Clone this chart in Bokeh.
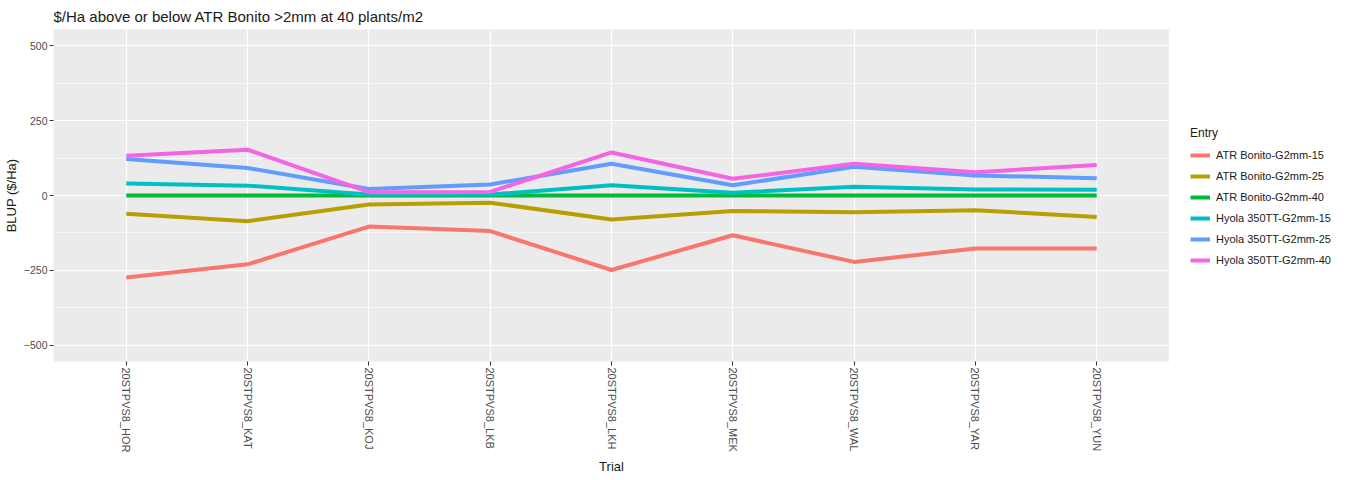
import math
from bokeh.plotting import figure
from bokeh.layouts import row
from bokeh.models import FactorRange, Range1d, FixedTicker, Legend, LegendItem
from bokeh.embed import file_html
from bokeh.resources import INLINE

trials = ["20STPVS8_HOR", "20STPVS8_KAT", "20STPVS8_KOJ", "20STPVS8_LKB", "20STPVS8_LKH",
          "20STPVS8_MEK", "20STPVS8_WAL", "20STPVS8_YAR", "20STPVS8_YUN"]

entries = ["ATR Bonito-G2mm-15", "ATR Bonito-G2mm-25", "ATR Bonito-G2mm-40",
           "Hyola 350TT-G2mm-15", "Hyola 350TT-G2mm-25", "Hyola 350TT-G2mm-40"]
colors = ["#F8766D", "#B79F00", "#00BA38", "#00BFC4", "#619CFF", "#F564E3"]

atr_15 = [-274, -230, -104, -119, -249, -133, -222, -177, -177]
atr_25 = [-61, -86, -30, -24, -80, -52, -56, -49, -72]
atr_40 = [0, 0, 0, 0, 0, 0, 0, 0, 0]
hyola_15 = [40, 33, 3, 3, 34, 9, 29, 20, 19]
hyola_25 = [122, 92, 22, 37, 106, 34, 96, 67, 58]
hyola_40 = [133, 153, 11, 12, 144, 56, 106, 78, 102]
series = [atr_15, atr_25, atr_40, hyola_15, hyola_25, hyola_40]

y_ticks = [-500, -250, 0, 250, 500]
y_minor = [-375, -125, 125, 375]

FONT = "Liberation Sans"

p = figure(x_range=FactorRange(factors=trials, range_padding=0.1, range_padding_units="absolute"),
           y_range=Range1d(-555, 555),
           frame_width=1116, frame_height=332,
           min_border_left=44, min_border_right=0, min_border_top=23, min_border_bottom=100,
           output_backend="svg", toolbar_location=None,
           title="$/Ha above or below ATR Bonito >2mm at 40 plants/m2")

p.background_fill_color = "#EBEBEB"
p.border_fill_color = "white"
p.outline_line_color = None

p.title.text_font = FONT
p.title.text_font_size = "15px"
p.title.text_font_style = "normal"
p.title.text_color = "#1A1A1A"
p.title.align = "left"

p.xgrid.grid_line_color = "white"
p.xgrid.grid_line_width = 1.2
p.ygrid.grid_line_color = "white"
p.ygrid.grid_line_width = 1.2
p.ygrid.minor_grid_line_color = "white"
p.ygrid.minor_grid_line_width = 0.6

p.yaxis.ticker = FixedTicker(ticks=y_ticks, minor_ticks=y_minor)

for ax in [p.xaxis[0], p.yaxis[0]]:
    ax.axis_line_color = None
    ax.major_tick_line_color = "#333333"
    ax.major_tick_in = 0
    ax.major_tick_out = 4
    ax.minor_tick_line_color = None
    ax.major_label_text_font = FONT
    ax.major_label_text_color = "#4D4D4D"
    ax.major_label_standoff = 2
    ax.axis_label_text_font = FONT
    ax.axis_label_text_font_size = "13px"
    ax.axis_label_text_font_style = "normal"
    ax.axis_label_text_color = "#1A1A1A"

p.xaxis.major_label_text_font_size = "11px"
p.yaxis.major_label_text_font_size = "10.5px"
p.xaxis.axis_label = "Trial"
p.yaxis.axis_label = "BLUP ($/Ha)"
p.xaxis.major_label_orientation = -math.pi / 2
p.xaxis.axis_label_standoff = 4
p.yaxis.axis_label_standoff = 2

for name, vals, col in zip(entries, series, colors):
    p.line(x=trials, y=vals, line_color=col, line_width=4)

# legend lives in its own small figure to the right of the panel
lg = figure(frame_width=165, frame_height=332, x_range=Range1d(0, 1), y_range=Range1d(0, 1),
            min_border=0, output_backend="svg", toolbar_location=None)
lg.axis.visible = False
lg.grid.visible = False
lg.outline_line_color = None
lg.background_fill_color = "white"
lg.border_fill_color = "white"

items = []
for name, col in zip(entries, colors):
    r = lg.line(x=[float("nan")], y=[float("nan")], line_color=col, line_width=4)
    items.append(LegendItem(label=name, renderers=[r]))

legend = Legend(items=items, location=(21, 62), title="Entry",
                title_text_font=FONT, title_text_font_size="12px", title_text_color="#1A1A1A",
                title_text_font_style="normal",
                label_text_font=FONT, label_text_font_size="11px", label_text_color="#1A1A1A",
                glyph_width=20, glyph_height=20, label_height=20, spacing=1,
                label_standoff=6, padding=0, margin=0,
                background_fill_color="white", border_line_color=None,
                title_standoff=5)
lg.add_layout(legend, "center")

layout = row(p, lg)

open("out.html", "w").write(file_html(layout, INLINE))
